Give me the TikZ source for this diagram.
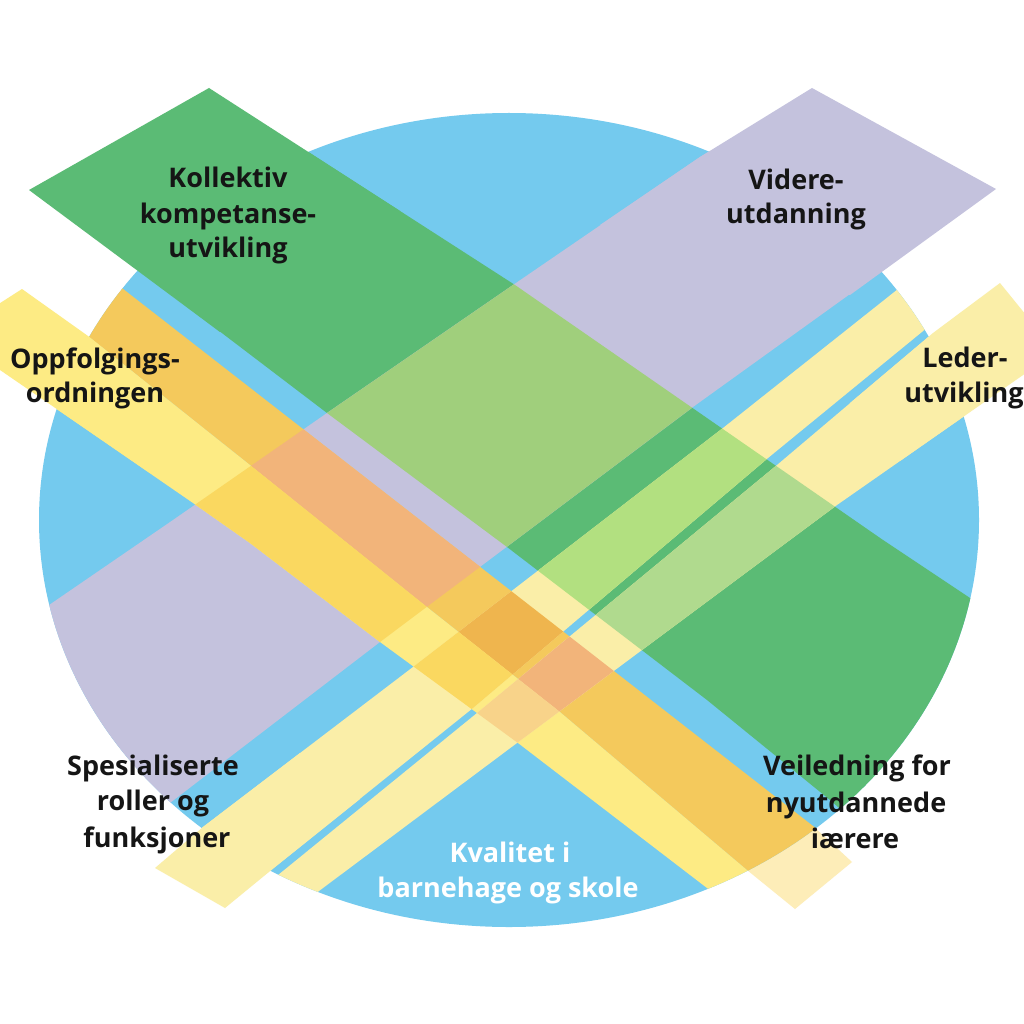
\documentclass[tikz,border=0pt]{standalone}
\usepackage{fontspec}
\setmainfont{Open Sans}
\definecolor{cblue}{HTML}{74CAEE}
\definecolor{cgreen}{HTML}{5BBB75}
\definecolor{cpurple}{HTML}{C4C2DD}
\definecolor{clime}{HTML}{A0CF7C}
\definecolor{cgyb}{HTML}{B2E080}
\definecolor{cgyc}{HTML}{B0DA8E}
\definecolor{cyellow}{HTML}{FDEB84}
\definecolor{corange}{HTML}{F4C95C}
\definecolor{cpale}{HTML}{FAEEA8}
\definecolor{cotip}{HTML}{FDEDB8}
\definecolor{cpeach}{HTML}{F2B47A}
\definecolor{coyb}{HTML}{EFB54E}
\definecolor{cyelpur}{HTML}{FAD860}
\definecolor{cayc}{HTML}{F8D38A}
\definecolor{ctext}{HTML}{151515}
\tikzset{lbl/.style={font=\bfseries\fontsize{27}{35}\selectfont, text=ctext, anchor=base, inner sep=0pt}}
\def\ovalE{(509,520) ellipse [x radius=470, y radius=407]}
\def\bandG{(29,190) -- (209,88) -- (515,285) -- (883,540) -- (970,598) -- (1100,686) -- (950,905) -- (830,800) -- (707,700) -- (507,547) -- (327,413) -- (143,273) -- cycle}
\def\bandP{(812,88) -- (996,189) -- (693,407) -- (380,642) -- (183,793) -- (60,887) -- (-60,680) -- (52,603) -- (173,520) -- (327,413) -- (513,285) -- (700,157) -- cycle}
\def\bandO{(50,232) -- (127,292) -- (813,826) -- (900,894) -- (830,940) -- (747,870) -- (560,712) -- (427,607) -- (250,465) -- (88,336) -- (20,282) -- cycle}
\def\bandA{(22,289) -- (88,336) -- (250,465) -- (427,607) -- (560,712) -- (747,870) -- (830,940) -- (760,929) -- (707,888) -- (518,743) -- (380,642) -- (250,543) -- (193,503) -- (0,370) -- (-20,356) -- (-20,316) -- cycle}
\def\bandYb{(155,868) -- (203,827) -- (413,667) -- (723,428) -- (893,293) -- (980,224) -- (1010,260) -- (928,327) -- (768,458) -- (473,708) -- (275,867) -- (225,908) -- cycle}
\def\bandYc{(200,938) -- (283,871) -- (477,713) -- (777,465) -- (933,333) -- (1000,283) -- (1056,352) -- (963,417) -- (837,505) -- (763,560) -- (517,743) -- (323,888) -- (240,950) -- cycle}
\def\tipG{(29,190) -- (209,88) -- (400,211) -- (220,332) -- cycle}
\def\tipP{(812,88) -- (996,189) -- (850,295) -- (600,225) -- (700,157) -- cycle}
\def\tipA{(-20,316) -- (22,289) -- (88,336) -- (170,402) -- (150,473) -- (0,370) -- (-20,356) -- cycle}
\def\tipYb{(155,868) -- (203,827) -- (300,753) -- (360,799) -- (275,867) -- (225,908) -- cycle}
\def\tipYc{(850,403) -- (933,333) -- (1000,283) -- (1056,352) -- (963,417) -- (900,461) -- cycle}
\def\tipO{(700,738) -- (813,826) -- (852,862) -- (795,909) -- (747,870) -- (650,788) -- cycle}
\begin{document}
\begin{tikzpicture}[x=1pt,y=-1pt]
\useasboundingbox (0,0) rectangle (1024,1024);
\fill[white] (0,0) rectangle (1024,1024);
\clip (0,0) rectangle (1024,1024);
% pale tip of the orange band, outside the oval
\fill[cotip] \tipO;
% the blue oval
\fill[cblue] \ovalE;
\begin{scope}
  \clip \ovalE;
  \fill[cgreen] \bandG;
  \fill[cpurple] \bandP;
  \fill[corange] \bandO;
  \fill[cyellow] \bandA;
  \fill[cpale] \bandYb;
  \fill[cpale] \bandYc;
  \begin{scope}
    \clip \bandG;
    \fill[clime] \bandP;
    \fill[cgyb] \bandYb;
    \fill[cgyc] \bandYc;
  \end{scope}
  \begin{scope}
    \clip \bandO;
    \fill[cpeach] \bandP;
    \fill[coyb] \bandYb;
    \fill[cpeach] \bandYc;
  \end{scope}
  \begin{scope}
    \clip \bandA;
    \fill[cyelpur] \bandP;
    \fill[cyelpur] \bandYb;
    \fill[cayc] \bandYc;
  \end{scope}
\end{scope}
% band ends outside the oval
\fill[cgreen] \tipG;
\fill[cpurple] \tipP;
\fill[cyellow] \tipA;
\fill[cpale] \tipYb;
\fill[cpale] \tipYc;
% labels
\node[lbl] (t1) at (228,188) {Kollektiv};
\node[lbl] (t2) at (228,223) {kompetanse-};
\node[lbl] (t3) at (228,258) {utvikling};
\node[lbl] (t4) at (796,190) {Videre-};
\node[lbl] (t5) at (796,224) {utdanning};
\node[lbl] (t6) at (95,368) {Oppfolgings-};
\node[lbl] (t7) at (95,402) {ordningen};
\node[lbl] (t8) at (965,367) {Leder-};
\node[lbl] (t9) at (964,402) {utvikling};
\node[lbl] (t10) at (153,775) {Spesialiserte};
\node[lbl] (t11) at (153,810) {roller og};
\node[lbl] (t12) at (157,847) {funksjoner};
\node[lbl] (t13) at (857,775) {Veiledning for};
\node[lbl] (t14) at (856,812) {nyutdannede};
\node[lbl] (t15) at (855,848) {iærere};
\node[lbl,text=white] (t16) at (510,862) {Kvalitet i};
\node[lbl,text=white] (t17) at (508,897) {barnehage og skole};
\end{tikzpicture}
\end{document}
